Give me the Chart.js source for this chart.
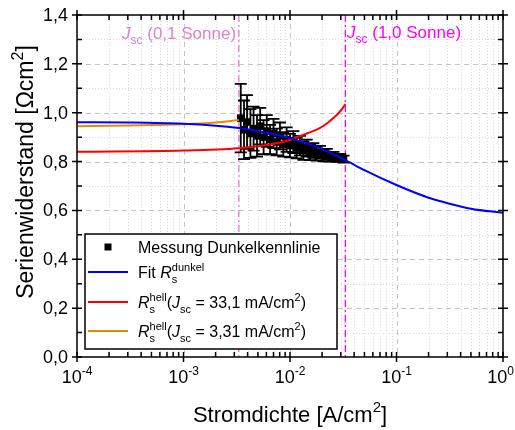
<!DOCTYPE html>
<html>
<head>
<meta charset="utf-8">
<script src="https://cdn.jsdelivr.net/npm/chart.js@4.4.1/dist/chart.umd.min.js"></script>
<style>
  body { margin: 0; background: #fff; }
</style>
</head>
<body>
<canvas id="chart" width="515" height="430"></canvas>
<script>
// measured dark curve (Stromdichte A/cm², Serienwiderstand Ωcm², error)
const measJ = [0.00345, 0.0037, 0.00395, 0.00425, 0.00455, 0.0049, 0.00525, 0.00565, 0.00605, 0.0065,
  0.007, 0.0075, 0.00805, 0.00865, 0.0093, 0.01, 0.01075, 0.01155, 0.0124, 0.01335,
  0.01435, 0.0154, 0.01655, 0.0178, 0.01915, 0.0206, 0.02215, 0.0238, 0.0256, 0.0275, 0.0296, 0.0318];
const measR = [0.978, 0.93, 0.962, 0.915, 0.935, 0.905, 0.945, 0.9, 0.925, 0.89,
  0.915, 0.88, 0.905, 0.87, 0.89, 0.865, 0.88, 0.855, 0.865, 0.845,
  0.855, 0.838, 0.845, 0.832, 0.838, 0.825, 0.83, 0.82, 0.822, 0.815, 0.816, 0.81];
const measErr = [0.14, 0.12, 0.11, 0.1, 0.09, 0.085, 0.075, 0.07, 0.065, 0.06,
  0.06, 0.055, 0.055, 0.05, 0.05, 0.048, 0.045, 0.042, 0.04, 0.038,
  0.035, 0.032, 0.03, 0.028, 0.026, 0.024, 0.022, 0.02, 0.018, 0.016, 0.015, 0.014];

// fit R_s^dunkel
const fitJ = [1e-4, 3e-4, 1e-3, 2e-3, 3.31e-3, 5e-3, 1e-2, 2e-2, 3.31e-2, 5e-2, 0.1, 0.2, 0.3, 0.5, 1];
const fitR = [0.961, 0.96, 0.955, 0.947, 0.937, 0.925, 0.896, 0.851, 0.806, 0.765, 0.704, 0.652, 0.63, 0.607, 0.59];

// R_s^hell at Jsc = 33,1 mA/cm²
const hellJ = [1e-4, 1e-3, 3.31e-3, 6.5e-3, 1e-2, 1.24e-2, 1.5e-2, 1.9e-2, 2.25e-2, 2.55e-2, 2.85e-2, 3.1e-2, 3.31e-2];
const hellR = [0.84, 0.845, 0.855, 0.87, 0.888, 0.905, 0.918, 0.937, 0.958, 0.978, 0.998, 1.017, 1.035];

// R_s^hell at Jsc = 3,31 mA/cm²
const hell01J = [1e-4, 3e-4, 1e-3, 2e-3, 3.31e-3];
const hell01R = [0.945, 0.948, 0.953, 0.96, 0.97];

const jscLines = [0.00331, 0.0331];
const xDecades = [1e-4, 1e-3, 1e-2, 1e-1, 1];
const yTicks = [0, 0.2, 0.4, 0.6, 0.8, 1.0, 1.2, 1.4];

const FONT = "'Liberation Sans', Arial, sans-serif";
const pts = (xs, ys) => xs.map((x, i) => ({ x, y: ys[i] }));

// text with italic parts, sub- and superscripts
function drawRuns(ctx, x, y, runs, size, color, measureOnly) {
  ctx.fillStyle = color;
  ctx.textAlign = "left";
  ctx.textBaseline = "alphabetic";
  const small = Math.round(size * 0.68);
  runs.forEach((r) => {
    if (r.sup !== undefined || r.sub !== undefined) {
      ctx.font = `${small}px ${FONT}`;
      let w = 0;
      if (r.sup) { if (!measureOnly) ctx.fillText(r.sup, x, y - size * 0.45); w = ctx.measureText(r.sup).width; }
      if (r.sub) { if (!measureOnly) ctx.fillText(r.sub, x, y + size * 0.3); w = Math.max(w, ctx.measureText(r.sub).width); }
      x += w;
    } else {
      ctx.font = `${r.i ? "italic " : ""}${size}px ${FONT}`;
      if (!measureOnly) ctx.fillText(r.t, x, y);
      x += ctx.measureText(r.t).width;
    }
  });
  return x;
}

const framePlugin = {
  id: "frame",
  beforeDatasetsDraw(chart) {
    const { ctx, chartArea: a, scales: { x, y } } = chart;
    ctx.save();
    // minor grid
    ctx.strokeStyle = "#d8d8d8";
    ctx.lineWidth = 1;
    ctx.setLineDash([1, 2]);
    xDecades.slice(0, -1).forEach((d) => {
      for (let m = 2; m <= 9; m++) {
        const px = Math.round(x.getPixelForValue(d * m)) + 0.5;
        ctx.beginPath(); ctx.moveTo(px, a.top); ctx.lineTo(px, a.bottom); ctx.stroke();
      }
    });
    for (let v = 0.1; v < 1.4; v += 0.2) {
      const py = Math.round(y.getPixelForValue(v)) + 0.5;
      ctx.beginPath(); ctx.moveTo(a.left, py); ctx.lineTo(a.right, py); ctx.stroke();
    }
    // major grid
    ctx.strokeStyle = "#c4c4c4";
    ctx.setLineDash([5, 4]);
    xDecades.slice(1, -1).forEach((d) => {
      const px = Math.round(x.getPixelForValue(d)) + 0.5;
      ctx.beginPath(); ctx.moveTo(px, a.top); ctx.lineTo(px, a.bottom); ctx.stroke();
    });
    yTicks.slice(1, -1).forEach((v) => {
      const py = Math.round(y.getPixelForValue(v)) + 0.5;
      ctx.beginPath(); ctx.moveTo(a.left, py); ctx.lineTo(a.right, py); ctx.stroke();
    });
    // Jsc markers
    ctx.lineWidth = 1.3;
    ctx.setLineDash([7, 3, 2, 3]);
    ["#e080c8", "#ff00ff"].forEach((c, i) => {
      const px = x.getPixelForValue(jscLines[i]);
      ctx.strokeStyle = c;
      ctx.beginPath(); ctx.moveTo(px, a.top); ctx.lineTo(px, a.bottom); ctx.stroke();
    });
    // error bars
    ctx.setLineDash([]);
    ctx.strokeStyle = "#000";
    ctx.lineWidth = 1.8;
    measJ.forEach((j, i) => {
      const px = x.getPixelForValue(j);
      const t = y.getPixelForValue(measR[i] + measErr[i]);
      const b = y.getPixelForValue(measR[i] - measErr[i]);
      ctx.beginPath();
      ctx.moveTo(px, t); ctx.lineTo(px, b);
      ctx.moveTo(px - 6, t); ctx.lineTo(px + 6, t);
      ctx.moveTo(px - 6, b); ctx.lineTo(px + 6, b);
      ctx.stroke();
    });
    ctx.restore();
  },
  afterDraw(chart) {
    const { ctx, chartArea: a, scales: { x, y } } = chart;
    ctx.save();
    ctx.strokeStyle = "#000";
    ctx.lineWidth = 1.5;
    ctx.strokeRect(a.left, a.top, a.right - a.left, a.bottom - a.top);
    // ticks on all four sides
    const tickX = (px, len, out) => {
      ctx.beginPath();
      ctx.moveTo(px, a.bottom + out); ctx.lineTo(px, a.bottom - len);
      ctx.moveTo(px, a.top - out); ctx.lineTo(px, a.top + len);
      ctx.stroke();
    };
    const tickY = (py, len, out) => {
      ctx.beginPath();
      ctx.moveTo(a.left - out, py); ctx.lineTo(a.left + len, py);
      ctx.moveTo(a.right + out, py); ctx.lineTo(a.right - len, py);
      ctx.stroke();
    };
    xDecades.forEach((d, k) => {
      tickX(x.getPixelForValue(d), 5, 5);
      if (k < xDecades.length - 1) for (let m = 2; m <= 9; m++) tickX(x.getPixelForValue(d * m), 5, 0);
    });
    yTicks.forEach((v, k) => {
      tickY(y.getPixelForValue(v), 5, 5);
      if (k < yTicks.length - 1) tickY(y.getPixelForValue(v + 0.1), 5, 0);
    });
    // y tick labels
    ctx.fillStyle = "#000";
    ctx.font = `18px ${FONT}`;
    ctx.textAlign = "right";
    ctx.textBaseline = "middle";
    yTicks.forEach((v) => {
      ctx.fillText(v.toFixed(1).replace(".", ","), a.left - 9, y.getPixelForValue(v) + 1);
    });
    // x tick labels 10^n
    xDecades.forEach((d) => {
      const px = x.getPixelForValue(d);
      const e = String(Math.round(Math.log10(d)));
      ctx.font = `18px ${FONT}`;
      const w1 = ctx.measureText("10").width;
      ctx.font = `12px ${FONT}`;
      const w2 = ctx.measureText(e).width;
      const start = Math.min(px - (w1 + w2) / 2, 514 - w1 - w2);
      drawRuns(ctx, start, 383, [{ t: "10" }, { sup: e }], 18, "#000");
    });

    // axis titles
    const xt = [{ t: "Stromdichte [A/cm" }, { sup: "2" }, { t: "]" }];
    const xw = drawRuns(ctx, 0, 0, xt, 22, "#000", true);
    drawRuns(ctx, (a.left + a.right) / 2 - xw / 2, 422, xt, 22, "#000");
    const yt = [{ t: "Serienwiderstand [Ωcm" }, { sup: "2" }, { t: "]" }];
    const yw = drawRuns(ctx, 0, 0, yt, 23, "#000", true);
    ctx.save();
    ctx.translate(33, 172);
    ctx.rotate(-Math.PI / 2);
    drawRuns(ctx, -yw / 2, 0, yt, 23, "#000");
    ctx.restore();

    // Jsc labels
    drawRuns(ctx, 122, 39, [{ t: "J", i: true }, { sub: "sc" }, { t: " (0,1 Sonne)" }], 17, "#e080c8");
    drawRuns(ctx, 347, 38, [{ t: "J", i: true }, { sub: "sc" }, { t: " (1,0 Sonne)" }], 17, "#ff00ff");

    // legend
    const lx = 85, ly = 234, lw = 252, lh = 115;
    ctx.fillStyle = "#fff";
    ctx.fillRect(lx, ly, lw, lh);
    ctx.strokeStyle = "#000";
    ctx.lineWidth = 1.5;
    ctx.strokeRect(lx, ly, lw, lh);
    ctx.fillStyle = "#000";
    ctx.fillRect(108 - 3.5, 247 - 3.5, 7, 7);
    drawRuns(ctx, 138, 253, [{ t: "Messung Dunkelkennlinie" }], 16, "#000");
    const rows = [
      { c: "#0000ff", cy: 272, runs: [{ t: "Fit " }, { t: "R", i: true }, { sup: "dunkel", sub: "s" }] },
      { c: "#ff0000", cy: 302, runs: [{ t: "R", i: true }, { sup: "hell", sub: "s" }, { t: "(" }, { t: "J", i: true }, { sub: "sc" }, { t: " = 33,1 mA/cm" }, { sup: "2" }, { t: ")" }] },
      { c: "#e68a00", cy: 331, runs: [{ t: "R", i: true }, { sup: "hell", sub: "s" }, { t: "(" }, { t: "J", i: true }, { sub: "sc" }, { t: " = 3,31 mA/cm" }, { sup: "2" }, { t: ")" }] },
    ];
    rows.forEach((r) => {
      ctx.strokeStyle = r.c;
      ctx.lineWidth = 2;
      ctx.beginPath(); ctx.moveTo(88, r.cy); ctx.lineTo(128, r.cy); ctx.stroke();
      drawRuns(ctx, 138, r.cy + 6, r.runs, 16, "#000");
    });
    ctx.restore();
  },
};

new Chart(document.getElementById("chart"), {
  type: "line",
  data: {
    datasets: [
      {
        label: "Messung Dunkelkennlinie",
        data: pts(measJ, measR),
        showLine: false,
        pointStyle: "rect",
        pointRadius: 5.3,
        backgroundColor: "#000",
        borderColor: "#000",
        borderWidth: 0,
        order: 10,
      },
      { label: "Fit", data: pts(fitJ, fitR), borderColor: "#0000ff", order: 1 },
      { label: "hell 33,1", data: pts(hellJ, hellR), borderColor: "#ff0000", order: 2 },
      { label: "hell 3,31", data: pts(hell01J, hell01R), borderColor: "#e68a00", order: 3 },
    ],
  },
  options: {
    responsive: false,
    animation: false,
    devicePixelRatio: 1,
    layout: { padding: { top: 15, right: 12, left: 0, bottom: 0 } },
    elements: {
      line: { borderWidth: 2, cubicInterpolationMode: "monotone", fill: false },
      point: { radius: 0 },
    },
    scales: {
      x: {
        type: "logarithmic",
        min: 1e-4,
        max: 1,
        ticks: { display: false },
        grid: { display: false, drawTicks: false },
        border: { display: false },
        afterFit: (s) => { s.height = 73; },
      },
      y: {
        min: 0,
        max: 1.4,
        ticks: { display: false },
        grid: { display: false, drawTicks: false },
        border: { display: false },
        afterFit: (s) => { s.width = 77; },
      },
    },
    plugins: { legend: { display: false }, tooltip: { enabled: false } },
  },
  plugins: [framePlugin],
});
</script>
</body>
</html>
